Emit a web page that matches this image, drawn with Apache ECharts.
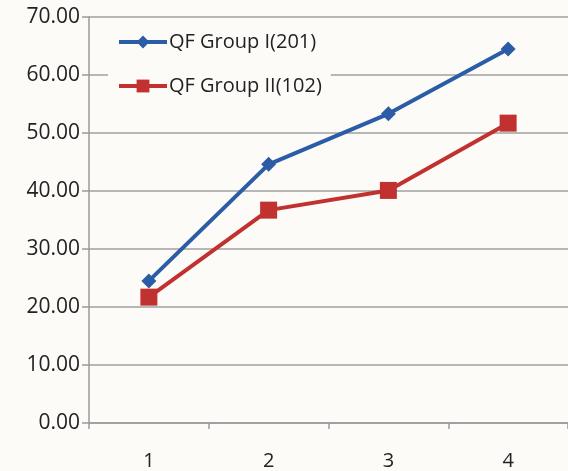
<!DOCTYPE html>
<html><head><meta charset="utf-8">
<script src="https://cdn.jsdelivr.net/npm/echarts@6/dist/echarts.min.js"></script>
<style>html,body{margin:0;padding:0;background:#fcfbf8;}#c{width:568px;height:471px;}</style>
</head><body><div id="c"></div>
<script>
const categories = ['1', '2', '3', '4'];
const group1 = [24.5, 44.6, 53.3, 64.5];
const group2 = [21.7, 36.7, 40.1, 51.7];
const seriesNames = ['QF Group I(201)', 'QF Group II(102)'];
const yTicks = {min: 0, max: 70, interval: 10};

const chart = echarts.init(document.getElementById('c'));
const font = '"Open Sans", sans-serif';
chart.setOption({
  backgroundColor: '#fcfbf8',
  animation: false,
  grid: {left: 89, right: 0, top: 17, bottom: 48, containLabel: false},
  legend: {
    orient: 'vertical', left: 108, top: 28, itemGap: 24, itemWidth: 48, itemHeight: 16,
    backgroundColor: '#fcfbf8', padding: [4, 9, 4, 9],
    lineStyle: {width: 4},
    textStyle: {fontFamily: font, fontSize: 20, color: '#222', padding: [0, 0, 0, -3]},
    data: seriesNames
  },
  xAxis: {
    type: 'category', data: categories, boundaryGap: true,
    axisLine: {lineStyle: {color: '#9a9a9a', width: 1.5}},
    axisTick: {show: true, length: 6, lineStyle: {color: '#9a9a9a', width: 1.5}},
    axisLabel: {fontFamily: font, fontSize: 20, color: '#222', margin: 28}
  },
  yAxis: {
    type: 'value', min: yTicks.min, max: yTicks.max, interval: yTicks.interval,
    axisLine: {show: true, lineStyle: {color: '#9a9a9a', width: 1.5}},
    axisTick: {show: true, length: 7, lineStyle: {color: '#9a9a9a', width: 1.5}},
    splitLine: {lineStyle: {color: '#a0a0a0', width: 1.5}},
    axisLabel: {fontFamily: font, fontSize: 21, color: '#222', margin: 9,
      formatter: v => v.toFixed(2)}
  },
  series: [
    {name: seriesNames[0], type: 'line', data: group1, symbol: 'diamond', symbolSize: 15,
     lineStyle: {color: '#2b5ca6', width: 4}, itemStyle: {color: '#2b5ca6'}},
    {name: seriesNames[1], type: 'line', data: group2, symbol: 'rect', symbolSize: 17,
     lineStyle: {color: '#c0312f', width: 4}, itemStyle: {color: '#c0312f'}}
  ]
});
</script></body></html>
